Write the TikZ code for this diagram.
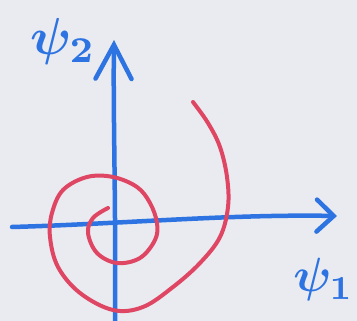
\documentclass[tikz,border=0pt]{standalone}
\usetikzlibrary{arrows.meta}
\definecolor{bg}{RGB}{234,235,240}
\definecolor{pen}{RGB}{45,115,225}
\definecolor{ink}{RGB}{222,70,100}
\begin{document}
\begin{tikzpicture}[x=1pt,y=-1pt,
  axis/.style={draw=pen,line width=4.5pt,line cap=round},
  curve/.style={draw=ink,line width=4pt,line cap=round},
  lab/.style={text=pen,inner sep=0pt}]
\fill[bg] (0,0) rectangle (357,321);
\useasboundingbox (0,0) rectangle (357,321);
\coordinate (yb) at (115,322);
\coordinate (yt) at (114,40);
\coordinate (xl) at (12,227);
\coordinate (xr) at (337,216);
\draw[axis,-{Straight Barb[length=34pt,width=36pt,line cap=round]}] (yb) .. controls (116,200) and (113,120) .. (yt);
\draw[axis,-{Straight Barb[length=17pt,width=32pt,line cap=round]}] (xl) .. controls (120,224) and (230,214) .. (xr);
\draw[curve] plot[smooth,tension=0.6] coordinates{
(108,208) (93,218) (88,233) (97,253) (117,263) (140,258) (155,240) (157,223)
(150,203) (137,187) (113,177) (87,177) (63,190) (52,213) (50,237) (58,267)
(80,293) (113,310) (143,307) (173,287) (200,263) (220,237) (228,207) (227,177)
(220,147) (208,123) (193,102)};
\node[lab,anchor=west] (l2) at (30,42) {\scalebox{5.2}{\boldmath$\psi_{2}$}};
\node[lab,anchor=east] (l1) at (354,280) {\scalebox{4.8}{\boldmath$\psi_{1}$}};
\end{tikzpicture}
\end{document}
